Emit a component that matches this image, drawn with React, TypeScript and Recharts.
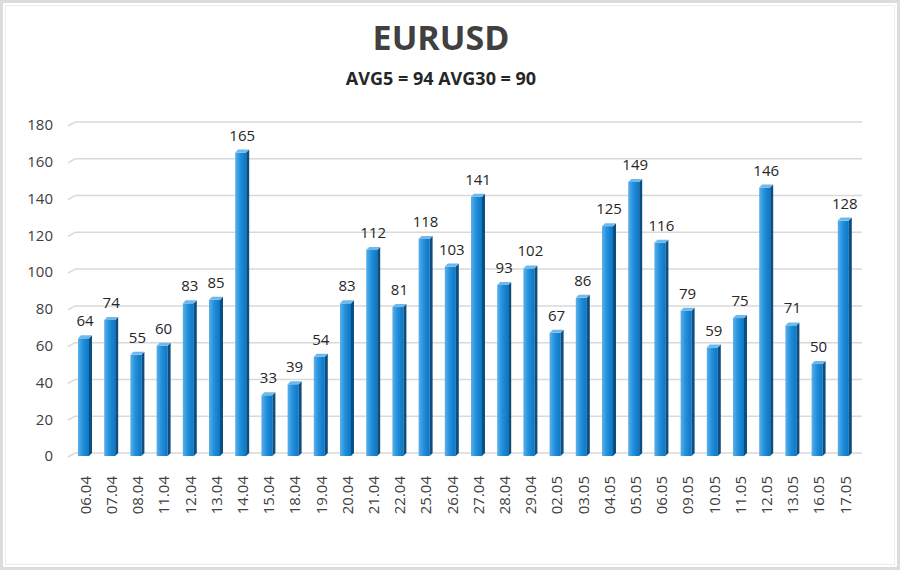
import React from 'react'
import { BarChart, Bar, XAxis, YAxis, CartesianGrid, LabelList } from 'recharts'

const dates = [
  '06.04', '07.04', '08.04', '11.04', '12.04', '13.04', '14.04', '15.04', '18.04', '19.04',
  '20.04', '21.04', '22.04', '25.04', '26.04', '27.04', '28.04', '29.04', '02.05', '03.05',
  '04.05', '05.05', '06.05', '09.05', '10.05', '11.05', '12.05', '13.05', '16.05', '17.05',
]
const values = [
  64, 74, 55, 60, 83, 85, 165, 33, 39, 54,
  83, 112, 81, 118, 103, 141, 93, 102, 67, 86,
  125, 149, 116, 79, 59, 75, 146, 71, 50, 128,
]
const yTicks = [0, 20, 40, 60, 80, 100, 120, 140, 160, 180]

const title = 'EURUSD'
const subtitle = 'AVG5 = 94 AVG30 = 90'

const data = dates.map((date, i) => ({ date, value: values[i] }))

const font = '"Open Sans", "DejaVu Sans", sans-serif'
const textColor = '#404040'

// bar with a thin right side and top face, like the old 3D column look
function Bar3D(props: any) {
  const { x, y, width, height } = props
  if (height == null || height <= 0) return null
  const d = 3
  const w = width - d
  return (
    <g>
      <rect x={x} y={y} width={w} height={height} fill="url(#barFront)" />
      <polygon
        points={`${x + w},${y} ${x + w + d},${y - d} ${x + w + d},${y + height - d} ${x + w},${y + height}`}
        fill="#0b4f82"
      />
      <polygon
        points={`${x},${y} ${x + d},${y - d} ${x + w + d},${y - d} ${x + w},${y}`}
        fill="#6fb8ec"
      />
    </g>
  )
}

function GridLine(props: any) {
  const { x1, x2, y1, index } = props
  return (
    <g key={`grid-${index}-${y1}`}>
      <line x1={x1 + 3} y1={y1 - 3} x2={x2 + 4} y2={y1 - 3} stroke="#d9d9d9" strokeWidth={1.5} />
      <line x1={x1 - 4} y1={y1 + 1} x2={x1 + 3} y2={y1 - 3} stroke="#d9d9d9" strokeWidth={1.5} />
    </g>
  )
}

export default function App() {
  return (
    <div style={{ position: 'relative', width: 900, height: 570, background: '#fff', fontFamily: font }}>
      <style>{'body{margin:0}'}</style>
      <div
        style={{
          position: 'absolute', left: 0, top: 0, width: 900, height: 570,
          boxSizing: 'border-box', border: '3px solid #dcdcdc', pointerEvents: 'none',
        }}
      />
      <div
        style={{
          position: 'absolute', left: 5, top: 5, width: 890, height: 560,
          boxSizing: 'border-box', border: '1px solid #ececec', pointerEvents: 'none',
        }}
      />
      <div
        style={{
          position: 'absolute', left: 0, top: 14, width: 882, textAlign: 'center',
          fontSize: 34, fontWeight: 700, color: textColor, lineHeight: '46px',
        }}
      >
        {title}
      </div>
      <div
        style={{
          position: 'absolute', left: 0, top: 65, width: 882, textAlign: 'center',
          fontSize: 18, fontWeight: 700, color: '#262626', lineHeight: '26px',
        }}
      >
        {subtitle}
      </div>
      <div style={{ position: 'absolute', left: 0, top: 0 }}>
        <BarChart
          width={900}
          height={570}
          data={data}
          margin={{ top: 125, right: 42, bottom: 50, left: 12 }}
          barCategoryGap={0}
        >
          <defs>
            <linearGradient id="barFront" x1="0" y1="0" x2="1" y2="0">
              <stop offset="0%" stopColor="#5cb0ea" />
              <stop offset="45%" stopColor="#2290dc" />
              <stop offset="100%" stopColor="#0c76c4" />
            </linearGradient>
          </defs>
          <CartesianGrid vertical={false} horizontal={GridLine as any} />
          <XAxis
            dataKey="date"
            axisLine={false}
            tickLine={false}
            interval={0}
            height={64}
            tick={{ fill: textColor, fontSize: 15, fontFamily: font }}
            angle={-90}
            textAnchor="end"
            dx={-5}
            tickMargin={14}
          />
          <YAxis
            domain={[0, 180]}
            ticks={yTicks}
            axisLine={false}
            tickLine={false}
            width={60}
            tickSize={0}
            tickMargin={19}
            tick={{ fill: textColor, fontSize: 15, fontFamily: font }}
          />
          <Bar dataKey="value" barSize={14} shape={<Bar3D />} isAnimationActive={false}>
            <LabelList
              dataKey="value"
              position="top"
              offset={12}
              style={{ fill: '#262626', fontSize: 15, fontFamily: font }}
            />
          </Bar>
        </BarChart>
      </div>
    </div>
  )
}
